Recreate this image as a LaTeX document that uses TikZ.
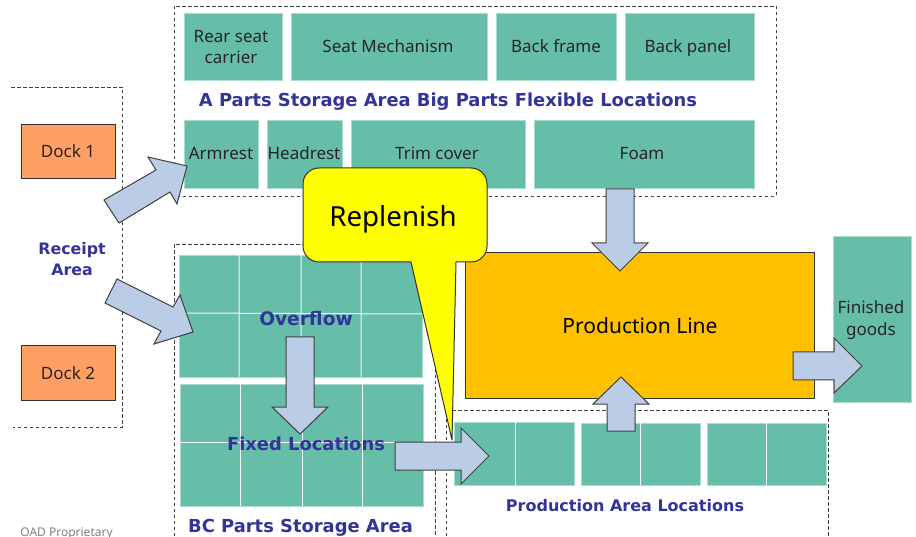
\documentclass[tikz,border=0pt]{standalone}
\usepackage{fontspec}
\setmainfont{Noto Sans}
\newfontfamily\boldfam{DejaVu Sans Bold}
\definecolor{teal1}{HTML}{66BDA8}
\definecolor{tealedge}{HTML}{A8DCCF}
\definecolor{arrowfill}{HTML}{BBCDE6}
\definecolor{arrowedge}{HTML}{404040}
\definecolor{titleblue}{HTML}{333399}
\definecolor{dockfill}{HTML}{FF9F64}
\definecolor{linefill}{HTML}{FFC000}
\definecolor{calloutfill}{HTML}{FFFF00}
\tikzset{
  x=1pt,y=-1pt,
  area/.style={draw=black!75,line width=0.8pt,dash pattern=on 3.5pt off 2.5pt},
  cell/.style={fill=teal1,draw=tealedge,line width=0.5pt},
  gridline/.style={draw=white!92!teal1,line width=1pt},
  blockarrow/.style={fill=arrowfill,draw=arrowedge,line width=1pt,line join=miter},
  lab/.style={font=\fontsize{17}{21.5}\selectfont,text=black!85,align=center,inner sep=0pt,anchor=base},
  mlab/.style={lab,anchor=center},
  head/.style={font=\boldfam\fontsize{17.9}{21}\selectfont,text=titleblue,align=center,inner sep=0pt,anchor=base},
  dockbox/.style={draw=black!80,line width=1pt,fill=dockfill,minimum width=94.5pt,minimum height=54pt,inner sep=0pt},
}
\begin{document}
\begin{tikzpicture}
\useasboundingbox (0,0) rectangle (916,537);
\clip (0,0) rectangle (916,537);
\fill[white] (0,0) rectangle (916,537);
% dashed areas
\draw[area] (11,87) -- (122,87) -- (122,427) -- (13,427);
\draw[area] (174.5,6) rectangle (776,196);
\draw[area] (174,560) -- (174,244) -- (435,244) -- (435,560);
\draw[area] (446,560) -- (446,410) -- (828,410) -- (828,560);
% docks
\node[dockbox] (dock1) at (68.5,152) {};
\node[dockbox] (dock2) at (68.5,373) {};
\node[lab] (dock1t) at (68,158) {Dock 1};
\node[lab] (dock2t) at (68,379) {Dock 2};
\node[head,anchor=center,font=\boldfam\fontsize{15.8}{21}\selectfont] (receipt) at (72,259) {Receipt\\Area};
% A parts
\draw[cell] (184,13) rectangle (282,80);
\draw[cell] (291,13) rectangle (487,80);
\draw[cell] (496,13) rectangle (616,80);
\draw[cell] (625,13) rectangle (754,80);
\draw[cell] (184,120) rectangle (258,188);
\draw[cell] (267,120) rectangle (342,188);
\draw[cell] (351,120) rectangle (525,188);
\draw[cell] (534,120) rectangle (754,188);
\node[mlab] (rear) at (231,47) {Rear seat\\carrier};
\node[lab] (mech) at (388,52.5) {Seat Mechanism};
\node[lab] (frame) at (556,52.5) {Back frame};
\node[lab] (panel) at (688,52.5) {Back panel};
\node[lab] (arm) at (221,160) {Armrest};
\node[lab] (headrest) at (304,160) {Headrest};
\node[lab] (trim) at (437,160) {Trim cover};
\node[lab] (foam) at (642,160) {Foam};
\node[head] (atitle) at (448,107) {A Parts Storage Area Big Parts Flexible Locations};
% BC grids
\draw[cell] (179,255) rectangle (422,377);
\draw[gridline] (239,255) -- (239,377) (301,255) -- (301,377) (361,255) -- (361,377) (179,313) -- (422,314);
\draw[cell] (180,384) rectangle (423,506);
\draw[gridline] (240,384) -- (240,506) (302,384) -- (302,506) (362,384) -- (362,506) (180,442) -- (423,442);
% Production locations
\draw[cell] (454,422) rectangle (574,485);
\draw[cell] (581,423) rectangle (700,485);
\draw[cell] (707,423) rectangle (826,485);
\draw[gridline] (515,422) -- (515,485) (640,423) -- (640,485) (766,423) -- (766,485);
% production line and finished goods
\draw[cell] (833,236) rectangle (911,402);
\node[draw=black!80,line width=1pt,fill=linefill,minimum width=349.5pt,minimum height=145pt,inner sep=0pt] (line) at (640,325.5) {};
\node[lab,font=\fontsize{21}{25}\selectfont,text=black] (linet) at (640,334) {Production Line};
\node[mlab,font=\fontsize{17}{22}\selectfont] (finished) at (871,320) {Finished\\goods};
% block arrows
\draw[blockarrow] (104,200) -- (156,170) -- (148,157) -- (187,166) -- (177,204) -- (170,192) -- (119,223) -- cycle;
\draw[blockarrow] (117,279) -- (173,307) -- (180,295) -- (193,332) -- (154,344) -- (161,331) -- (105,303) -- cycle;
\draw[blockarrow] (286,337) -- (314,337) -- (314,407) -- (328,407) -- (300,434) -- (272,407) -- (286,407) -- cycle;
\draw[blockarrow] (606,189) -- (634,189) -- (634,243) -- (648,243) -- (620,271) -- (592,243) -- (606,243) -- cycle;
\draw[blockarrow] (607,431) -- (635,431) -- (635,404) -- (649,404) -- (621,377) -- (593,404) -- (607,404) -- cycle;
\draw[blockarrow] (793,352) -- (834,352) -- (834,338) -- (862,366) -- (834,393) -- (834,380) -- (793,380) -- cycle;
% callout
\draw[fill=calloutfill,draw=black!80,line width=1pt,line join=round]
  (319,168) -- (471,168) arc[start angle=90,end angle=0,radius=16pt] -- (487,246) arc[start angle=0,end angle=-90,radius=16pt]
  -- (456,262) -- (452,440) -- (411,262) -- (319,262) arc[start angle=270,end angle=180,radius=16pt] -- (303,184) arc[start angle=180,end angle=90,radius=16pt] -- cycle;
\node[lab,font=\fontsize{27.7}{32}\selectfont,text=black] (replenish) at (393,226.5) {Replenish};
\draw[blockarrow] (395,442) -- (461,442) -- (461,428) -- (489,456) -- (461,484) -- (461,470) -- (395,470) -- cycle;
% area labels
\node[head,font=\boldfam\fontsize{18.6}{21}\selectfont] (overflow) at (306,325.5) {Overflow};
\node[head] (fixed) at (306,450.5) {Fixed Locations};
\node[head] (bc) at (300.5,532.5) {BC Parts Storage Area};
\node[head,font=\boldfam\fontsize{16}{21}\selectfont] (pal) at (625,511) {Production Area Locations};
\node[lab,font=\fontsize{12}{14}\selectfont,text=black!50] (oad) at (66.5,536.5) {OAD Proprietary};
\end{tikzpicture}
\end{document}
